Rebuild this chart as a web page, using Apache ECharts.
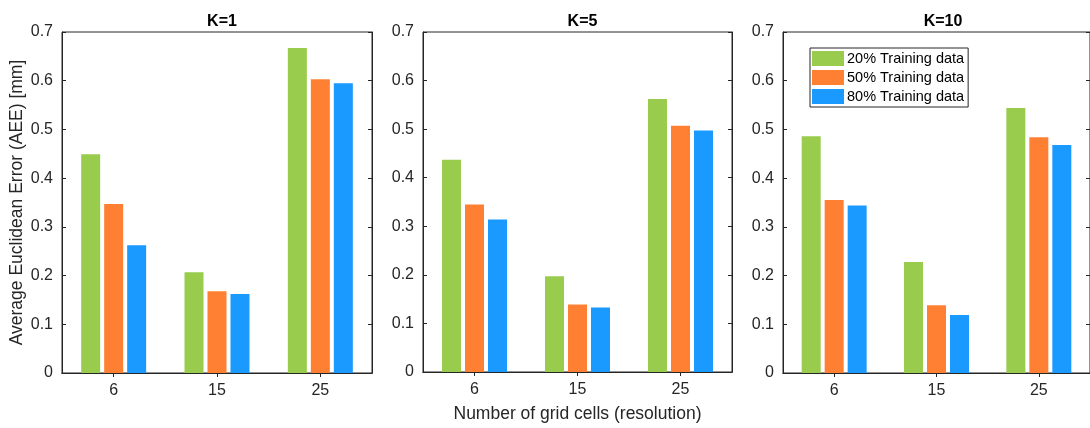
<!DOCTYPE html>
<html>
<head>
<meta charset="utf-8">
<script src="https://cdn.jsdelivr.net/npm/echarts@6/dist/echarts.min.js"></script>
<style>html,body{margin:0;padding:0;background:#fff}#c{width:1090px;height:428px}</style>
</head>
<body>
<div id="c"></div>
<script>
const categories = ['6', '15', '25'];
const panelTitles = ['K=1', 'K=5', 'K=10'];
const seriesNames = ['20% Training data', '50% Training data', '80% Training data'];
// values per panel, per series
const k1_20 = [0.449, 0.207, 0.667];
const k1_50 = [0.347, 0.168, 0.603];
const k1_80 = [0.262, 0.162, 0.595];
const k5_20 = [0.437, 0.197, 0.562];
const k5_50 = [0.345, 0.139, 0.507];
const k5_80 = [0.314, 0.133, 0.497];
const k10_20 = [0.486, 0.228, 0.544];
const k10_50 = [0.355, 0.139, 0.484];
const k10_80 = [0.344, 0.119, 0.468];
const yTicks = [0, 0.1, 0.2, 0.3, 0.4, 0.5, 0.6, 0.7];

const panelData = [[k1_20, k1_50, k1_80], [k5_20, k5_50, k5_80], [k10_20, k10_50, k10_80]];
const colors = ['#99CC4C', '#FF8033', '#1A99FF'];
const gridPos = [{left: 62, width: 310}, {left: 423, width: 309}, {left: 783, width: 313}];
const axisColor = '#262626';
const font = 'Liberation Sans, Arial, Helvetica, sans-serif';

const chart = echarts.init(document.getElementById('c'));
const grids = [], xAxes = [], yAxes = [], series = [], titles = [];
gridPos.forEach((g, i) => {
  grids.push({left: g.left, width: g.width, top: 32, height: 341, show: true, borderColor: axisColor, borderWidth: 1, containLabel: false});
  titles.push({text: panelTitles[i], left: g.left + g.width / 2 - (i === 2 ? 1.5 : 0), top: 9, textAlign: 'center',
    textStyle: {fontFamily: font, fontSize: 16, fontWeight: 'bold', color: '#000'}});
  xAxes.push({type: 'category', gridIndex: i, data: categories, position: 'bottom',
    axisLine: {show: true, lineStyle: {color: axisColor, width: 1}},
    axisTick: {show: true, inside: true, alignWithLabel: true, length: 4, lineStyle: {color: axisColor}},
    axisLabel: {margin: 10, fontFamily: font, fontSize: 16, color: axisColor},
    name: i === 1 ? 'Number of grid cells (resolution)' : '', nameLocation: 'middle', nameGap: 33,
    nameTextStyle: {fontFamily: font, fontSize: 17.5, color: axisColor}});
  xAxes.push({type: 'category', gridIndex: i, data: categories, position: 'top',
    axisLine: {show: true, lineStyle: {color: axisColor, width: 1}},
    axisTick: {show: true, inside: true, alignWithLabel: true, length: 4, lineStyle: {color: axisColor}},
    axisLabel: {show: false}});
  yAxes.push({type: 'value', gridIndex: i, min: yTicks[0], max: yTicks[yTicks.length - 1], interval: 0.1, position: 'left',
    splitLine: {show: false},
    axisLine: {show: true, lineStyle: {color: axisColor, width: 1}},
    axisTick: {show: true, inside: true, length: 4, lineStyle: {color: axisColor}},
    axisLabel: {margin: 9, fontFamily: font, fontSize: 16, color: axisColor, formatter: v => (Math.round(v * 10) / 10).toString()},
    name: i === 0 ? 'Average Euclidean Error (AEE) [mm]' : '', nameLocation: 'middle', nameGap: 36,
    nameTextStyle: {fontFamily: font, fontSize: 17.5, color: axisColor}});
  yAxes.push({type: 'value', gridIndex: i, min: 0, max: 0.7, interval: 0.1, position: 'right',
    splitLine: {show: false},
    axisLine: {show: true, lineStyle: {color: axisColor, width: 1}},
    axisTick: {show: true, inside: true, length: 4, lineStyle: {color: axisColor}},
    axisLabel: {show: false}});
  panelData[i].forEach((vals, s) => {
    series.push({type: 'bar', name: seriesNames[s], xAxisIndex: i * 2, yAxisIndex: i * 2, data: vals,
      barWidth: 19, barGap: '21%', itemStyle: {color: colors[s]}, silent: true});
  });
});

chart.setOption({
  animation: false,
  backgroundColor: '#fff',
  title: titles,
  grid: grids,
  xAxis: xAxes,
  yAxis: yAxes,
  legend: {data: seriesNames, icon: 'rect', orient: 'vertical', left: 810, top: 48, itemWidth: 32, itemHeight: 15, itemGap: 4,
    padding: [3, 4, 3, 2], borderColor: axisColor, borderWidth: 1, backgroundColor: '#fff',
    textStyle: {fontFamily: font, fontSize: 14.5, color: '#000', padding: [0, 0, 0, -2]}},
  series: series
});
</script>
</body>
</html>
